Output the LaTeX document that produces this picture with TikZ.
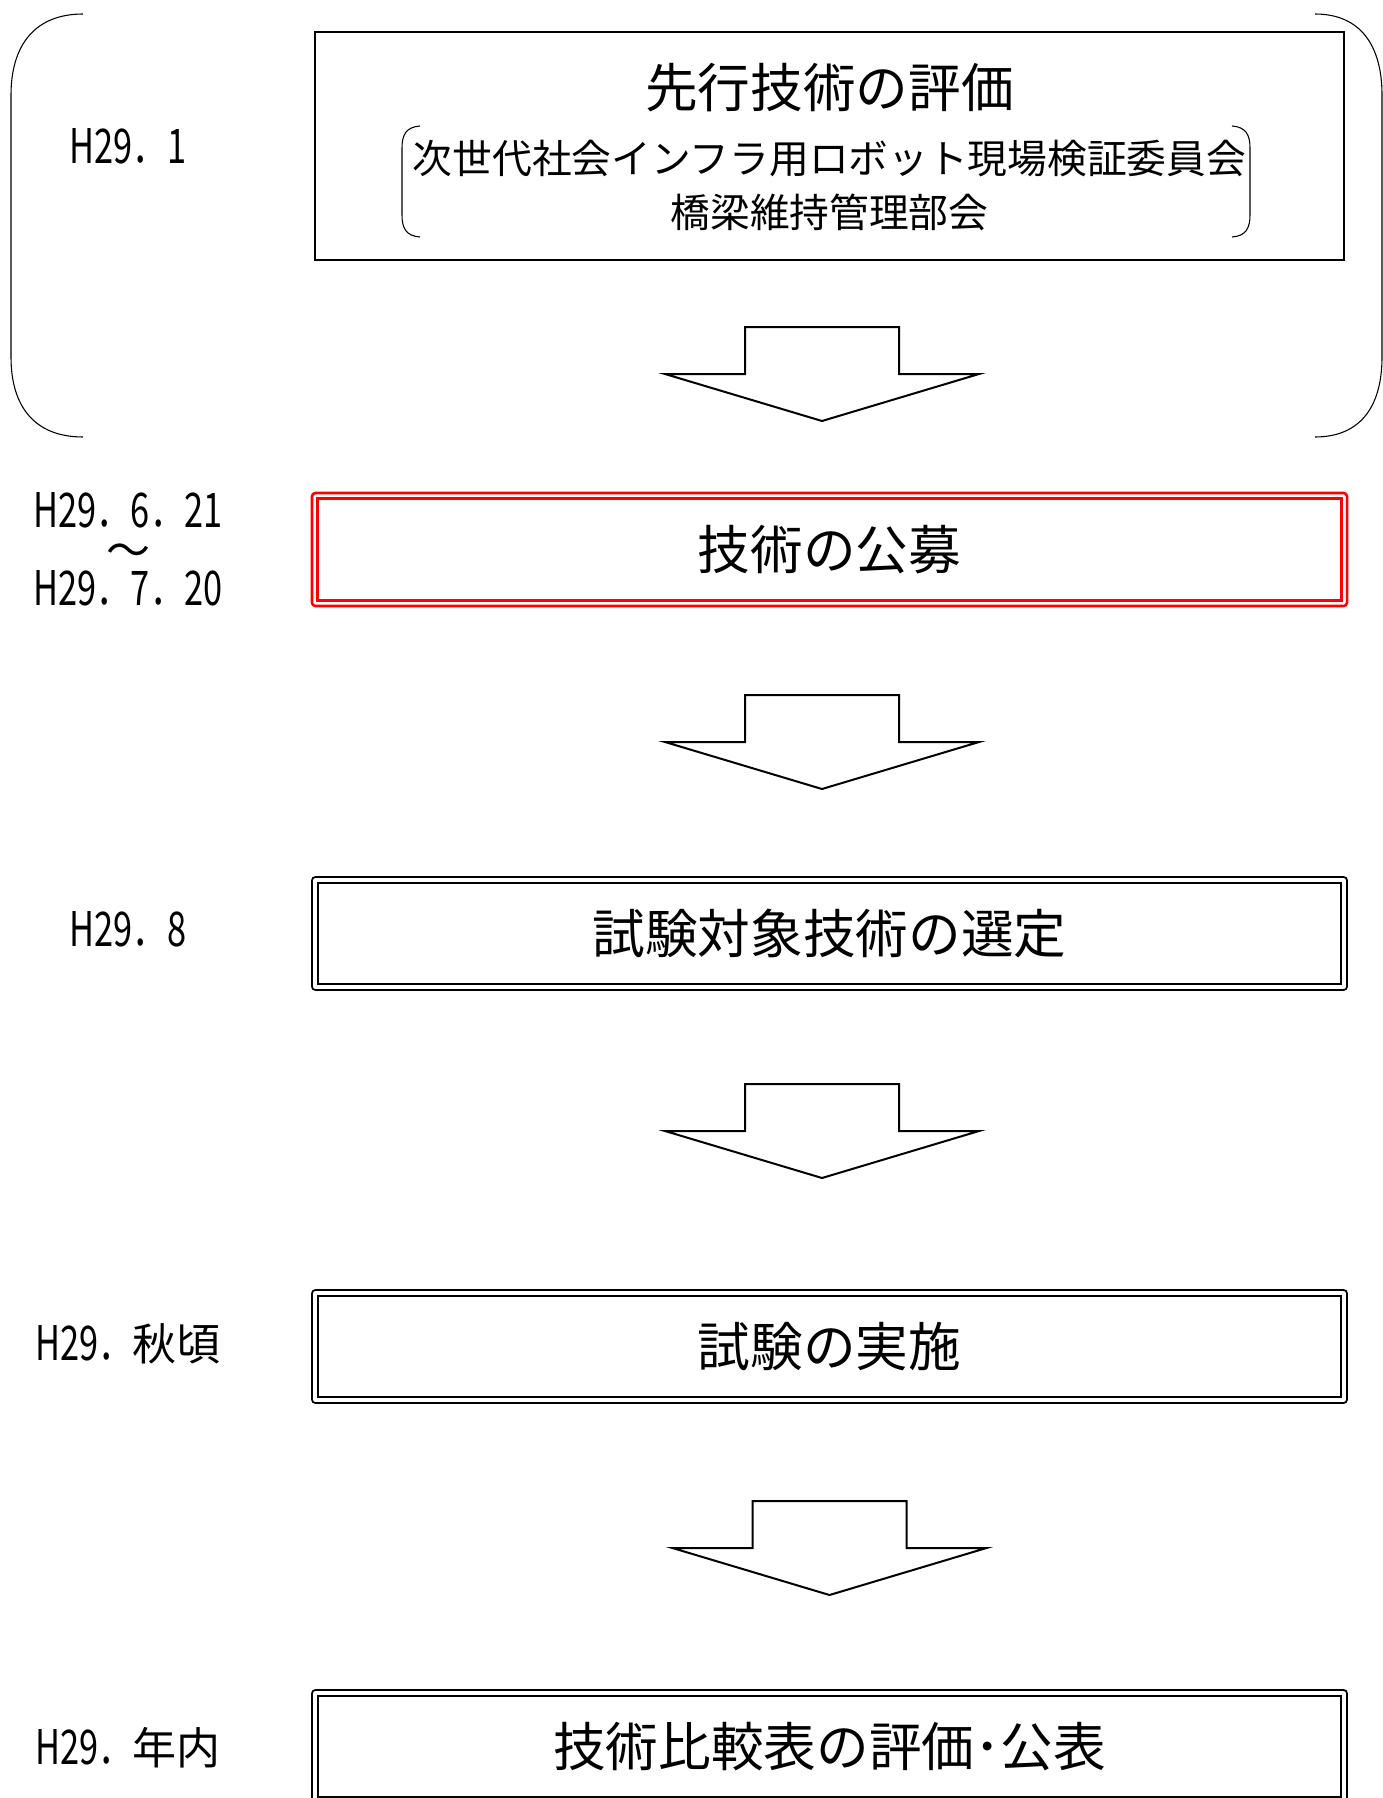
\documentclass[tikz,border=0pt]{standalone}
\usepackage{fontspec}
\setmainfont{Noto Sans CJK JP}
\newfontfamily\datefont[FakeStretch=0.72]{Noto Sans CJK JP}
\newcommand\lbljp[1]{{\rmfamily\fontsize{33pt}{29.25pt}\selectfont #1}}
\begin{document}
\begin{tikzpicture}[x=0.75pt,y=-0.75pt,
  lbl/.style={font=\datefont\fontsize{35.8pt}{29.25pt}\selectfont, inner sep=0pt, anchor=center},
  ttl/.style={font=\fontsize{39.5pt}{40pt}\selectfont, inner sep=0pt},
  subttl/.style={font=\fontsize{29.8pt}{40.5pt}\selectfont, align=center, inner sep=0pt},
  plainbox/.style={draw, line width=1.5pt, outer sep=0pt, minimum width=771.75pt, minimum height=171pt, inner sep=0pt},
  redbox/.style={draw=red, line width=1.9pt, rounded corners=2.5pt, outer sep=0pt, minimum width=776.25pt, minimum height=84.75pt, inner sep=0pt},
  dblbox/.style={draw, line width=1.3pt, rounded corners=2.5pt, outer sep=0pt, minimum width=776.25pt, minimum height=84.75pt, inner sep=0pt},
  innerred/.style={draw=red, line width=1.6pt},
  innerblk/.style={draw, line width=1.9pt},
  blk/.style={draw, line width=1.5pt, fill=white, line join=miter},
  brk/.style={draw, line width=0.8pt},
  downarw/.pic={\draw[blk] (-77,0) -- (77,0) -- (77,47) -- (157,47) -- (0,94) -- (-157,47) -- (-77,47) -- cycle;}
]
\useasboundingbox (0,0) rectangle (1383,1798);
\begin{scope}
\clip (0,0) rectangle (1383,1798);

% big bracket around first stage
\draw[brk] (83,14) .. controls (35,14) and (11,45) .. (11,95) -- (11,357) .. controls (11,407) and (35,437) .. (83,437);
\draw[brk] (1315,14) .. controls (1360,14) and (1382,45) .. (1382,95) -- (1382,357) .. controls (1382,407) and (1360,437) .. (1315,437);

% box 1
\node[plainbox] (b1) at (829.5,146) {};
\node[ttl] (b1t) at (829.5,88) {先行技術の評価};
\node[subttl] (b1s) at (829.5,185) {次世代社会インフラ用ロボット現場検証委員会\\橋梁維持管理部会};
\draw[brk] (420,126) .. controls (406,127) and (402,135) .. (402,148) -- (402,215) .. controls (402,228) and (406,236) .. (420,237);
\draw[brk] (1232,126) .. controls (1246,127) and (1250,135) .. (1250,148) -- (1250,215) .. controls (1250,228) and (1246,236) .. (1232,237);
\node[lbl] (d1) at (128,146) {H29．1};

\pic at (822,327) {downarw};

% box 2
\node[redbox, ttl] (b2) at (829.5,549.5) {技術の公募};
\draw[innerred] ([shift={(5.5,5.5)}]b2.north west) rectangle ([shift={(-5.5,-5.5)}]b2.south east);
\node[lbl, align=center, anchor=north] (d2) at (128,492) {H29．6．21\\\lbljp{〜}\\H29．7．20};

\pic at (822,695) {downarw};

% box 3
\node[dblbox, ttl] (b3) at (829.5,933.5) {試験対象技術の選定};
\draw[innerblk] ([shift={(6,6)}]b3.north west) rectangle ([shift={(-6,-6)}]b3.south east);
\node[lbl] (d3) at (128,929) {H29．8};

\pic at (822,1084) {downarw};

% box 4
\node[dblbox, ttl] (b4) at (829.5,1346.5) {試験の実施};
\draw[innerblk] ([shift={(6,6)}]b4.north west) rectangle ([shift={(-6,-6)}]b4.south east);
\node[lbl] (d4) at (128,1344) {H29．\lbljp{秋頃}};

\pic at (829.5,1501) {downarw};

% box 5
\node[dblbox, ttl] (b5) at (829.5,1746.5) {技術比較表の評価･公表};
\draw[innerblk] ([shift={(6,6)}]b5.north west) rectangle ([shift={(-6,-6)}]b5.south east);
\node[lbl] (d5) at (128,1748) {H29．\lbljp{年内}};
\end{scope}
\end{tikzpicture}
\end{document}
